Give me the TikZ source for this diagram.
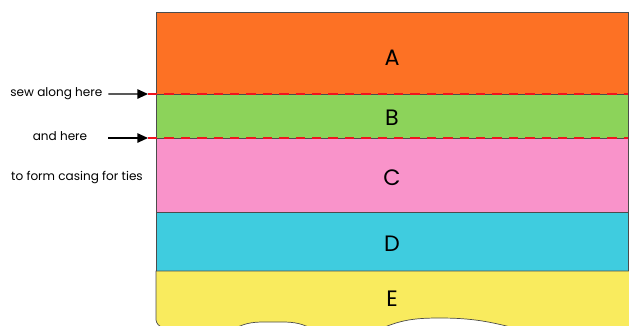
\documentclass[tikz,border=0pt]{standalone}
\usepackage{fontspec}
\setmainfont{Poppins}
\usetikzlibrary{arrows.meta, positioning}

\definecolor{bandA}{HTML}{FD7124}
\definecolor{bandB}{HTML}{8CD35A}
\definecolor{bandC}{HTML}{F993CA}
\definecolor{bandD}{HTML}{3FCCDF}
\definecolor{bandE}{HTML}{F9EB5E}
\definecolor{seamred}{HTML}{F0141E}

\begin{document}
\begin{tikzpicture}[x=0.03cm, y=-0.03cm,
  band/.style={rectangle,draw=black!70,line width=0.6pt,minimum width=14.16cm,inner sep=0pt,outer sep=0pt,anchor=north west},
  letter/.style={font=\fontsize{19}{22}\selectfont},
  note/.style={font=\fontsize{10.3}{12}\selectfont, inner sep=2pt},
  seam/.style={seamred,dashed,dash pattern=on 8pt off 6pt,line width=2pt},
  pt/.style={-{Triangle[length=9pt,width=8pt]},line width=1.1pt}
]
  \useasboundingbox (0,0) rectangle (629,325);

  % fabric bands
  \node[band,fill=bandA,minimum height=2.46cm,label={[letter,yshift=-0.13cm]center:A}] (a) at (156,12) {};
  \node[band,fill=bandB,minimum height=1.32cm,label={[letter,yshift=-0.06cm]center:B}] (b) at (a.south west) {};
  \node[band,fill=bandC,minimum height=2.22cm,label={[letter,yshift=-0.09cm]center:C}] (c) at (b.south west) {};
  \node[band,fill=bandD,minimum height=1.77cm,label={[letter,yshift=-0.06cm]center:D}] (d) at (c.south west) {};

  % last band with torn lower edge
  \begin{scope}
    \clip (0,0) rectangle (629,325);
    \filldraw[fill=bandE,draw=black!70,line width=0.6pt]
      (d.south east) -- (d.south west) -- (156,320)
      to[out=280,in=175] (172,330) -- (232,330)
      to[out=30,in=180] (264,322) -- (282,322)
      to[out=0,in=150] (314,330) -- (378,330)
      to[out=25,in=180] (440,318)
      to[out=0,in=165] (522,330) -- (640,330) -- (640,271) -- cycle;
  \end{scope}
  \node[letter] (e) at (392,299) {E};

  % seams
  \coordinate[left=0.24cm of a.south west] (s1);
  \coordinate[left=0.24cm of b.south west] (s2);
  \draw[seam] (s1) -- (a.south east);
  \draw[seam] (s2) -- (b.south east);

  % notes
  \node[note,anchor=east] (sew) at (105,94) {sew along here};
  \node[note] (andhere) at (60,136) {and here};
  \node[note] (casing) at (77,178) {to form casing for ties};
  \draw[pt,shorten <=0.1cm] (sew.east) -- (s1);
  \draw[pt,shorten <=0.55cm] (andhere.east |- s2) -- (s2);
\end{tikzpicture}
\end{document}
